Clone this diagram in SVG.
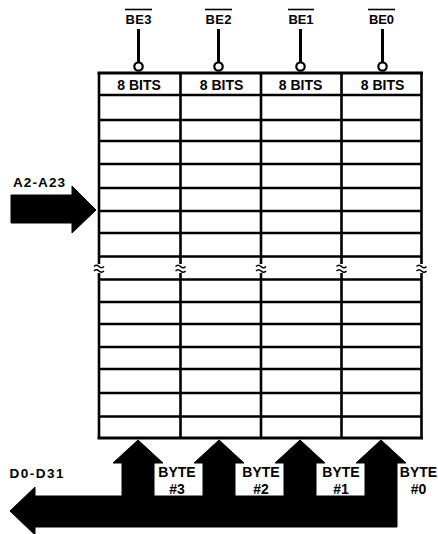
<svg xmlns="http://www.w3.org/2000/svg" width="438" height="534" viewBox="0 0 438 534">
<style>
text{font-family:"Liberation Sans",Arial,sans-serif;font-weight:bold;fill:#000}
.lbl{font-size:13.5px}
.bits{font-size:14px;text-anchor:middle}
.byte{font-size:14px;text-anchor:middle}
.be{font-size:13px;text-anchor:middle}
.hl{stroke:#000;stroke-width:2.6;fill:none}
.vl{stroke:#000;stroke-width:2.6;fill:none}
.frame{stroke:#000;stroke-width:3;fill:none}
.bar{stroke:#000;stroke-width:1.6}
.stem{stroke:#000;stroke-width:3}
.bub{fill:#fff;stroke:#000;stroke-width:2.2}
.sq{stroke:#000;stroke-width:1.5;fill:none}
.bus{fill:#000;stroke:#000;stroke-width:1;stroke-linejoin:round}
</style>
<rect width="438" height="534" fill="#fff"/>

<g id="be3"><line class="bar" x1="125" y1="9.5" x2="152" y2="9.5"/><text class="be" x="138.5" y="24" textLength="26">BE3</text></g>
<g id="be2"><line class="bar" x1="205" y1="9.5" x2="232" y2="9.5"/><text class="be" x="218.5" y="24" textLength="26">BE2</text></g>
<g id="be1"><line class="bar" x1="288" y1="9.5" x2="314" y2="9.5"/><text class="be" x="301" y="24" textLength="25">BE1</text></g>
<g id="be0"><line class="bar" x1="368" y1="9.5" x2="395" y2="9.5"/><text class="be" x="381.5" y="24" textLength="25">BE0</text></g>

<g id="memory-array">
<g class="hl">
<line x1="99" y1="95" x2="422" y2="95"/>
<line x1="99" y1="120" x2="422" y2="120"/>
<line x1="99" y1="141" x2="422" y2="141"/>
<line x1="99" y1="164" x2="422" y2="164"/>
<line x1="99" y1="188" x2="422" y2="188"/>
<line x1="99" y1="211" x2="422" y2="211"/>
<line x1="99" y1="233" x2="422" y2="233"/>
<line x1="99" y1="256.5" x2="422" y2="256.5"/>
<line x1="99" y1="279.5" x2="422" y2="279.5"/>
<line x1="99" y1="302" x2="422" y2="302"/>
<line x1="99" y1="324" x2="422" y2="324"/>
<line x1="99" y1="347" x2="422" y2="347"/>
<line x1="99" y1="369" x2="422" y2="369"/>
<line x1="99" y1="393" x2="422" y2="393"/>
<line x1="99" y1="416.5" x2="422" y2="416.5"/>
</g>
<g class="frame">
<line x1="97.5" y1="73" x2="423" y2="73"/>
<line x1="97.5" y1="438" x2="423" y2="438"/>
</g>
<g class="vl">
<line x1="99" y1="73" x2="99" y2="264"/><line x1="99" y1="273" x2="99" y2="438"/>
<line x1="180.5" y1="73" x2="180.5" y2="264"/><line x1="180.5" y1="273" x2="180.5" y2="438"/>
<line x1="261" y1="73" x2="261" y2="264"/><line x1="261" y1="273" x2="261" y2="438"/>
<line x1="341.5" y1="73" x2="341.5" y2="264"/><line x1="341.5" y1="273" x2="341.5" y2="438"/>
<line x1="421.5" y1="73" x2="421.5" y2="264"/><line x1="421.5" y1="273" x2="421.5" y2="438"/>
</g>
<g class="sq">
<path d="M94,266.5 q2.5,-2.5 5,0 t5,0"/><path d="M94,271 q2.5,-2.5 5,0 t5,0"/>
<path d="M175.5,266.5 q2.5,-2.5 5,0 t5,0"/><path d="M175.5,271 q2.5,-2.5 5,0 t5,0"/>
<path d="M256,266.5 q2.5,-2.5 5,0 t5,0"/><path d="M256,271 q2.5,-2.5 5,0 t5,0"/>
<path d="M336.5,266.5 q2.5,-2.5 5,0 t5,0"/><path d="M336.5,271 q2.5,-2.5 5,0 t5,0"/>
<path d="M416.5,266.5 q2.5,-2.5 5,0 t5,0"/><path d="M416.5,271 q2.5,-2.5 5,0 t5,0"/>
</g>
<text class="bits" x="139" y="89.5">8 BITS</text>
<text class="bits" x="221.5" y="89.5">8 BITS</text>
<text class="bits" x="300.5" y="89.5">8 BITS</text>
<text class="bits" x="382.5" y="89.5">8 BITS</text>
</g>

<g id="connectors">
<line class="stem" x1="138.5" y1="29" x2="138.5" y2="62"/><circle class="bub" cx="138.5" cy="66.5" r="4.2"/>
<line class="stem" x1="218.5" y1="29" x2="218.5" y2="62"/><circle class="bub" cx="218.5" cy="66.5" r="4.2"/>
<line class="stem" x1="300.5" y1="29" x2="300.5" y2="62"/><circle class="bub" cx="300.5" cy="66.5" r="4.2"/>
<line class="stem" x1="382.5" y1="29" x2="382.5" y2="62"/><circle class="bub" cx="382.5" cy="66.5" r="4.2"/>
</g>

<g id="a-bus">
<path class="bus" d="M11,195 L72,195 L72,186 L96,210 L72,233 L72,223 L11,223 Z"/>
<text class="lbl" x="13" y="187" textLength="52">A2-A23</text>
</g>

<g id="d-bus">
<path class="bus" d="M10,511 L35,487 L35,496 L122,496 L122,463 L113,463 L138,440 L163,463 L154,463 L154,496 L203,496 L203,463 L194,463 L219,440 L244,463 L235,463 L235,496 L284,496 L284,463 L275,463 L300,440 L325,463 L316,463 L316,496 L365,496 L365,463 L356,463 L381,440 L406,463 L397,463 L397,527 L35,527 L35,535 Z"/>
<text class="lbl" x="9.5" y="477.5" textLength="54">D0-D31</text>
<text class="byte" x="177" y="477">BYTE</text><text class="byte" x="177" y="494">#3</text>
<text class="byte" x="261" y="477">BYTE</text><text class="byte" x="261" y="494">#2</text>
<text class="byte" x="341" y="477">BYTE</text><text class="byte" x="341" y="494">#1</text>
<text class="byte" x="418.5" y="477">BYTE</text><text class="byte" x="418.5" y="494">#0</text>
</g>
</svg>
